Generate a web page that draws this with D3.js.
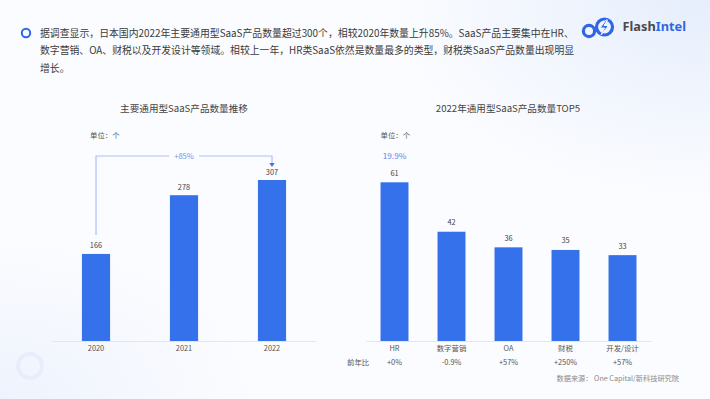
<!DOCTYPE html>
<html>
<head>
<meta charset="utf-8">
<script src="https://cdn.jsdelivr.net/npm/d3@7"></script>
<style>
  html, body { margin: 0; padding: 0; }
  body {
    width: 710px; height: 399px; overflow: hidden;
    background:
      radial-gradient(ellipse 320px 200px at 710px 0px, #e6eefc 0%, rgba(230,238,252,0) 100%),
      radial-gradient(ellipse 260px 160px at 0px 399px, #eef3fd 0%, rgba(238,243,253,0) 100%),
      #fbfcff;
    font-family: "Noto Sans CJK SC", "Noto Sans", sans-serif;
  }
</style>
</head>
<body>
<div id="chart"></div>
<script>
// 数据
const years = ["2020", "2021", "2022"];
const yearCounts = [166, 278, 307];
const growthLabel = "+85%";

const categories = ["HR", "数字营销", "OA", "财税", "开发/设计"];
const categoryCounts = [61, 42, 36, 35, 33];
const yoyLabels = ["+0%", "-0.9%", "+57%", "+250%", "+57%"];
const shareLabel = "19.9%";

const headerLines = [
    "据调查显示，日本国内2022年主要通用型SaaS产品数量超过300个，相较2020年数量上升85%。SaaS产品主要集中在HR、",
    "数字营销、OA、财税以及开发设计等领域。相较上一年，HR类SaaS依然是数量最多的类型，财税类SaaS产品数量出现明显",
    "增长。"
];

const width = 710, height = 399;
const barColor = "#3471ea";
const baseY = 341;

const svg = d3.select("#chart").append("svg")
    .attr("width", width)
    .attr("height", height)
    .style("font-family", "'Noto Sans CJK SC', 'Noto Sans', sans-serif");

// 装饰圆环
svg.append("circle")
    .attr("cx", 30).attr("cy", 366).attr("r", 12)
    .attr("fill", "none").attr("stroke", "#e7edfb").attr("stroke-width", 4);

// 标题段落
svg.append("circle")
    .attr("cx", 26).attr("cy", 33).attr("r", 4.2)
    .attr("fill", "none").attr("stroke", "#2f66e4").attr("stroke-width", 2);

const header = svg.append("g").selectAll("text")
    .data(headerLines)
    .join("text")
    .attr("x", 40)
    .attr("y", (d, i) => 36.8 + i * 17.6)
    .attr("font-size", 10)
    .attr("fill", "#3a3a3a")
    .text(d => d);
// 前两行都收到约 534px 宽：先按第一行定字号，再按第二行自身缩放
const w0 = header.nodes()[0].getComputedTextLength();
header.attr("font-size", 10 * 534 / w0);
const line2 = header.filter((d, i) => i === 1);
const w1 = line2.node().getBBox().width;
line2.attr("font-size", 10 * 534 / w0 * 535 / w1);

// Logo
const logo = svg.append("g");
logo.append("circle").attr("cx", 589).attr("cy", 31).attr("r", 5.6)
    .attr("fill", "none").attr("stroke", "#2f66e4").attr("stroke-width", 3.2);
logo.append("circle").attr("cx", 604.5).attr("cy", 27).attr("r", 8)
    .attr("fill", "none").attr("stroke", "#2f66e4").attr("stroke-width", 3.2);
logo.append("path")
    .attr("d", "M606,20 L600,28 L604.5,28 L601,35 L608.5,25.5 L604,25.5 L607.5,20 Z")
    .attr("fill", "#2f66e4").attr("stroke", "#f3f6fe").attr("stroke-width", 1);
const logoText = logo.append("text")
    .attr("x", 622.5).attr("y", 31)
    .attr("font-family", "'Noto Sans', sans-serif")
    .attr("font-size", 12.8).attr("font-weight", 700);
logoText.append("tspan").attr("fill", "#4a4a4a").text("Flash");
logoText.append("tspan").attr("fill", "#2f66e4").text("Intel");

// 左图：主要通用型SaaS产品数量推移
const x1 = d3.scaleBand().domain(years).range([52, 316]).paddingInner(0.68).paddingOuter(0.34);
const y1 = d3.scaleLinear().domain([0, 307]).range([baseY, 180]);

svg.append("text")
    .attr("x", 184).attr("y", 111.5)
    .attr("text-anchor", "middle")
    .attr("font-size", 9.6).attr("fill", "#444")
    .text("主要通用型SaaS产品数量推移");
svg.append("text")
    .attr("x", 90).attr("y", 138)
    .attr("font-size", 7.4).attr("fill", "#555")
    .text("单位：个");

const g1 = svg.append("g");
g1.selectAll("rect")
    .data(yearCounts)
    .join("rect")
    .attr("x", (d, i) => x1(years[i]))
    .attr("y", d => y1(d))
    .attr("width", x1.bandwidth())
    .attr("height", d => baseY - y1(d))
    .attr("fill", barColor);
g1.selectAll("text.val")
    .data(yearCounts)
    .join("text")
    .attr("class", "val")
    .attr("x", (d, i) => x1(years[i]) + x1.bandwidth() / 2)
    .attr("y", d => y1(d) - 5.5)
    .attr("text-anchor", "middle")
    .attr("font-size", 7.4).attr("fill", "#444")
    .text(d => d);

g1.append("g")
    .attr("transform", `translate(0,${baseY})`)
    .call(d3.axisBottom(x1).tickSize(0).tickPadding(5))
    .call(g => g.select(".domain").attr("stroke", "#e3e6ec").attr("stroke-width", 1.2))
    .call(g => g.selectAll("text").attr("font-size", 7.4).attr("fill", "#555").attr("font-family", "'Noto Sans CJK SC', sans-serif"));

// 增长括号
const bx0 = x1(years[0]) + x1.bandwidth() / 2;
const bx1 = x1(years[2]) + x1.bandwidth() / 2;
const bTop = 156;
const bColor = "#a9c0f5";
const midX = (x1(years[1]) + x1.bandwidth() / 2);
g1.append("path")
    .attr("d", `M${bx0},${y1(yearCounts[0]) - 19} V${bTop} H${midX - 15} M${midX + 15},${bTop} H${bx1} V${y1(yearCounts[2]) - 17}`)
    .attr("fill", "none").attr("stroke", bColor).attr("stroke-width", 1.2);
g1.append("path")
    .attr("d", `M${bx1 - 2.6},${y1(yearCounts[2]) - 17} L${bx1 + 2.6},${y1(yearCounts[2]) - 17} L${bx1},${y1(yearCounts[2]) - 13} Z`)
    .attr("fill", "#3a6fe6");
g1.append("text")
    .attr("x", midX).attr("y", bTop + 3)
    .attr("text-anchor", "middle")
    .attr("font-size", 7.6).attr("fill", "#6f95ee")
    .text(growthLabel);

// 右图：2022年通用型SaaS产品数量TOP5
const x2 = d3.scaleBand().domain(categories).range([366, 651]).paddingInner(0.51).paddingOuter(0.255);
const y2 = d3.scaleLinear().domain([0, 61]).range([baseY, 182.3]);

svg.append("text")
    .attr("x", 508).attr("y", 111.5)
    .attr("text-anchor", "middle")
    .attr("font-size", 9.6).attr("fill", "#444")
    .text("2022年通用型SaaS产品数量TOP5");
svg.append("text")
    .attr("x", 380.5).attr("y", 138)
    .attr("font-size", 7.4).attr("fill", "#555")
    .text("单位：个");

const g2 = svg.append("g");
g2.selectAll("rect")
    .data(categoryCounts)
    .join("rect")
    .attr("x", (d, i) => x2(categories[i]))
    .attr("y", d => y2(d))
    .attr("width", x2.bandwidth())
    .attr("height", d => baseY - y2(d))
    .attr("fill", barColor);
g2.selectAll("text.val")
    .data(categoryCounts)
    .join("text")
    .attr("class", "val")
    .attr("x", (d, i) => x2(categories[i]) + x2.bandwidth() / 2)
    .attr("y", d => y2(d) - 6.5)
    .attr("text-anchor", "middle")
    .attr("font-size", 7.4).attr("fill", "#444")
    .text(d => d);
g2.append("text")
    .attr("x", x2(categories[0]) + x2.bandwidth() / 2)
    .attr("y", 159)
    .attr("text-anchor", "middle")
    .attr("font-size", 8.2).attr("fill", "#5b86ee")
    .text(shareLabel);

g2.append("g")
    .attr("transform", `translate(0,${baseY})`)
    .call(d3.axisBottom(x2).tickSize(0).tickPadding(5))
    .call(g => g.select(".domain").attr("stroke", "#e3e6ec").attr("stroke-width", 1.2))
    .call(g => g.selectAll("text").attr("font-size", 7.4).attr("fill", "#555").attr("font-family", "'Noto Sans CJK SC', sans-serif"));

g2.selectAll("text.yoy")
    .data(yoyLabels)
    .join("text")
    .attr("class", "yoy")
    .attr("x", (d, i) => x2(categories[i]) + x2.bandwidth() / 2)
    .attr("y", 365)
    .attr("text-anchor", "middle")
    .attr("font-size", 7.4).attr("fill", "#555")
    .text(d => d);
g2.append("text")
    .attr("x", 347).attr("y", 365)
    .attr("font-size", 7.4).attr("fill", "#555")
    .text("前年比");

// 数据来源
svg.append("text")
    .attr("x", 556.5).attr("y", 381)
    .attr("font-size", 7.2).attr("fill", "#8a8a8a")
    .text("数据来源： One Capital/新科技研究院");
</script>
</body>
</html>
